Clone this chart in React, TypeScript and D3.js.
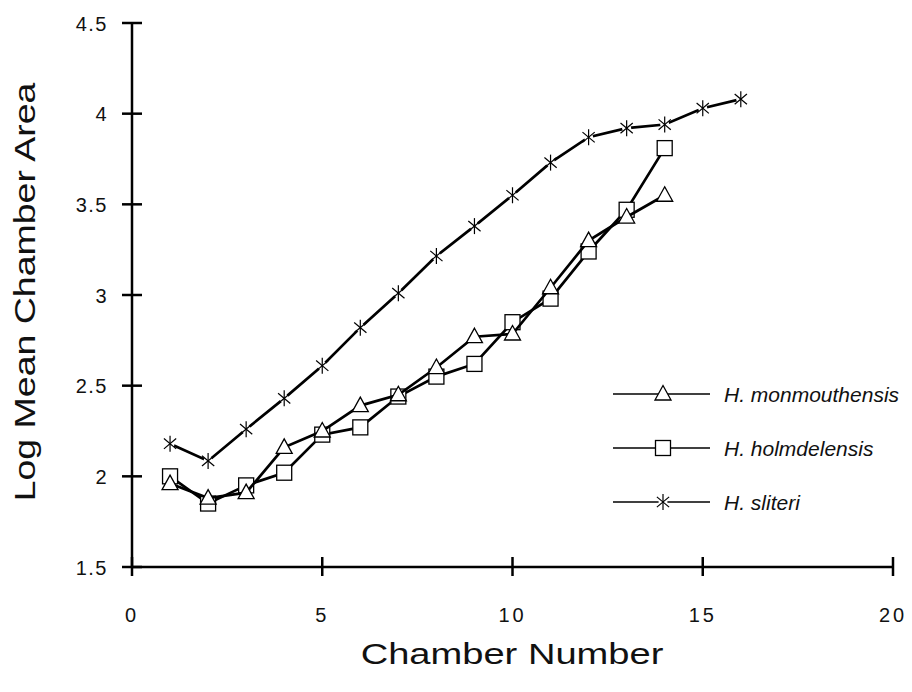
import React from "react";
import * as d3 from "d3";

const chambers = [1, 2, 3, 4, 5, 6, 7, 8, 9, 10, 11, 12, 13, 14, 15, 16];
const monmouthensis = [1.96, 1.88, 1.91, 2.16, 2.25, 2.39, 2.45, 2.6, 2.77, 2.785, 3.04, 3.3, 3.43, 3.55];
const holmdelensis = [2.0, 1.85, 1.95, 2.02, 2.23, 2.27, 2.44, 2.55, 2.62, 2.85, 2.98, 3.24, 3.47, 3.81];
const sliteri = [2.18, 2.085, 2.26, 2.43, 2.61, 2.82, 3.01, 3.215, 3.38, 3.55, 3.73, 3.87, 3.92, 3.94, 4.03, 4.08];
const xTicks = [0, 5, 10, 15, 20];
const yTicks = [1.5, 2, 2.5, 3, 3.5, 4, 4.5];
const seriesNames = ["H. monmouthensis", "H. holmdelensis", "H. sliteri"];

type Kind = "triangle" | "square" | "asterisk";

const Marker = ({ kind, x, y }: { kind: Kind; x: number; y: number }) => {
  if (kind === "square") {
    return <rect x={x - 7.5} y={y - 7.5} width={15} height={15} fill="#fff" stroke="#000" strokeWidth={1.3} />;
  }
  if (kind === "triangle") {
    return (
      <path
        d={`M${x},${y - 8.5} L${x + 8},${y + 6} L${x - 8},${y + 6} Z`}
        fill="#fff"
        stroke="#000"
        strokeWidth={1.3}
      />
    );
  }
  const r = 8;
  const a = (40 * Math.PI) / 180;
  const dx = r * Math.cos(a);
  const dy = r * Math.sin(a);
  return (
    <g stroke="#000" strokeWidth={1.2}>
      <circle cx={x} cy={y} r={4.5} fill="#fff" stroke="none" />
      <line x1={x} y1={y - r} x2={x} y2={y + r} />
      <line x1={x - dx} y1={y - dy} x2={x + dx} y2={y + dy} />
      <line x1={x - dx} y1={y + dy} x2={x + dx} y2={y - dy} />
    </g>
  );
};

export default function App() {
  const x = d3.scaleLinear().domain([0, 20]).range([132, 893]);
  const y = d3.scaleLinear().domain([1.5, 4.5]).range([567, 23]);
  const line = d3
    .line<[number, number]>()
    .x((d) => x(d[0]))
    .y((d) => y(d[1]));

  const series: { name: string; kind: Kind; values: number[] }[] = [
    { name: seriesNames[2], kind: "asterisk", values: sliteri },
    { name: seriesNames[1], kind: "square", values: holmdelensis },
    { name: seriesNames[0], kind: "triangle", values: monmouthensis },
  ];

  const legend: { name: string; kind: Kind }[] = [
    { name: seriesNames[0], kind: "triangle" },
    { name: seriesNames[1], kind: "square" },
    { name: seriesNames[2], kind: "asterisk" },
  ];
  const legendY = [394, 448, 502];

  const font = "'Liberation Sans', Arial, Helvetica, sans-serif";

  return (
    <svg
      width={912}
      height={692}
      style={{ position: "absolute", left: 0, top: 0, background: "#fff" }}
      fontFamily={font}
    >
      <rect width={912} height={692} fill="#fff" />
      {/* axes */}
      <line x1={x(0)} y1={y(1.5)} x2={x(20)} y2={y(1.5)} stroke="#000" strokeWidth={2.5} />
      <line x1={x(0)} y1={y(1.5)} x2={x(0)} y2={y(4.5)} stroke="#000" strokeWidth={2.5} />
      {yTicks.map((t) => (
        <g key={"y" + t}>
          <line x1={x(0) - 10} x2={x(0) + 10} y1={y(t)} y2={y(t)} stroke="#000" strokeWidth={2.5} />
          <text
            x={108}
            y={y(t) + 7.5}
            textAnchor="end"
            fontSize={20}
            letterSpacing={1.5}
            fill="#111"
          >
            {String(t)}
          </text>
        </g>
      ))}
      {xTicks.map((t) => (
        <g key={"x" + t}>
          <line x1={x(t)} x2={x(t)} y1={y(1.5) - 10} y2={y(1.5) + 9} stroke="#000" strokeWidth={2.5} />
          <text x={x(t)} y={622} textAnchor="middle" fontSize={20} letterSpacing={3} fill="#111">
            {String(t)}
          </text>
        </g>
      ))}
      <text
        transform="translate(512,664) scale(1.27,1)"
        textAnchor="middle"
        fontSize={30}
        fill="#111"
      >
        Chamber Number
      </text>
      <text
        transform="translate(35,292) rotate(-90) scale(1.25,1)"
        textAnchor="middle"
        fontSize={30}
        fill="#111"
      >
        Log Mean Chamber Area
      </text>
      {/* series */}
      {series.map((s) => {
        const pts: [number, number][] = s.values.map((v, i) => [chambers[i], v]);
        return (
          <g key={s.name}>
            <path d={line(pts) || ""} fill="none" stroke="#000" strokeWidth={2.7} />
            {pts.map((p, i) => (
              <Marker key={i} kind={s.kind} x={x(p[0])} y={y(p[1])} />
            ))}
          </g>
        );
      })}
      {/* legend */}
      {legend.map((l, i) => (
        <g key={l.name}>
          <line x1={613} x2={710} y1={legendY[i]} y2={legendY[i]} stroke="#000" strokeWidth={1.5} />
          <Marker kind={l.kind} x={663} y={legendY[i]} />
          <text x={724} y={legendY[i] + 7.5} fontSize={21} fontStyle="italic" fill="#111">
            {l.name}
          </text>
        </g>
      ))}
    </svg>
  );
}
